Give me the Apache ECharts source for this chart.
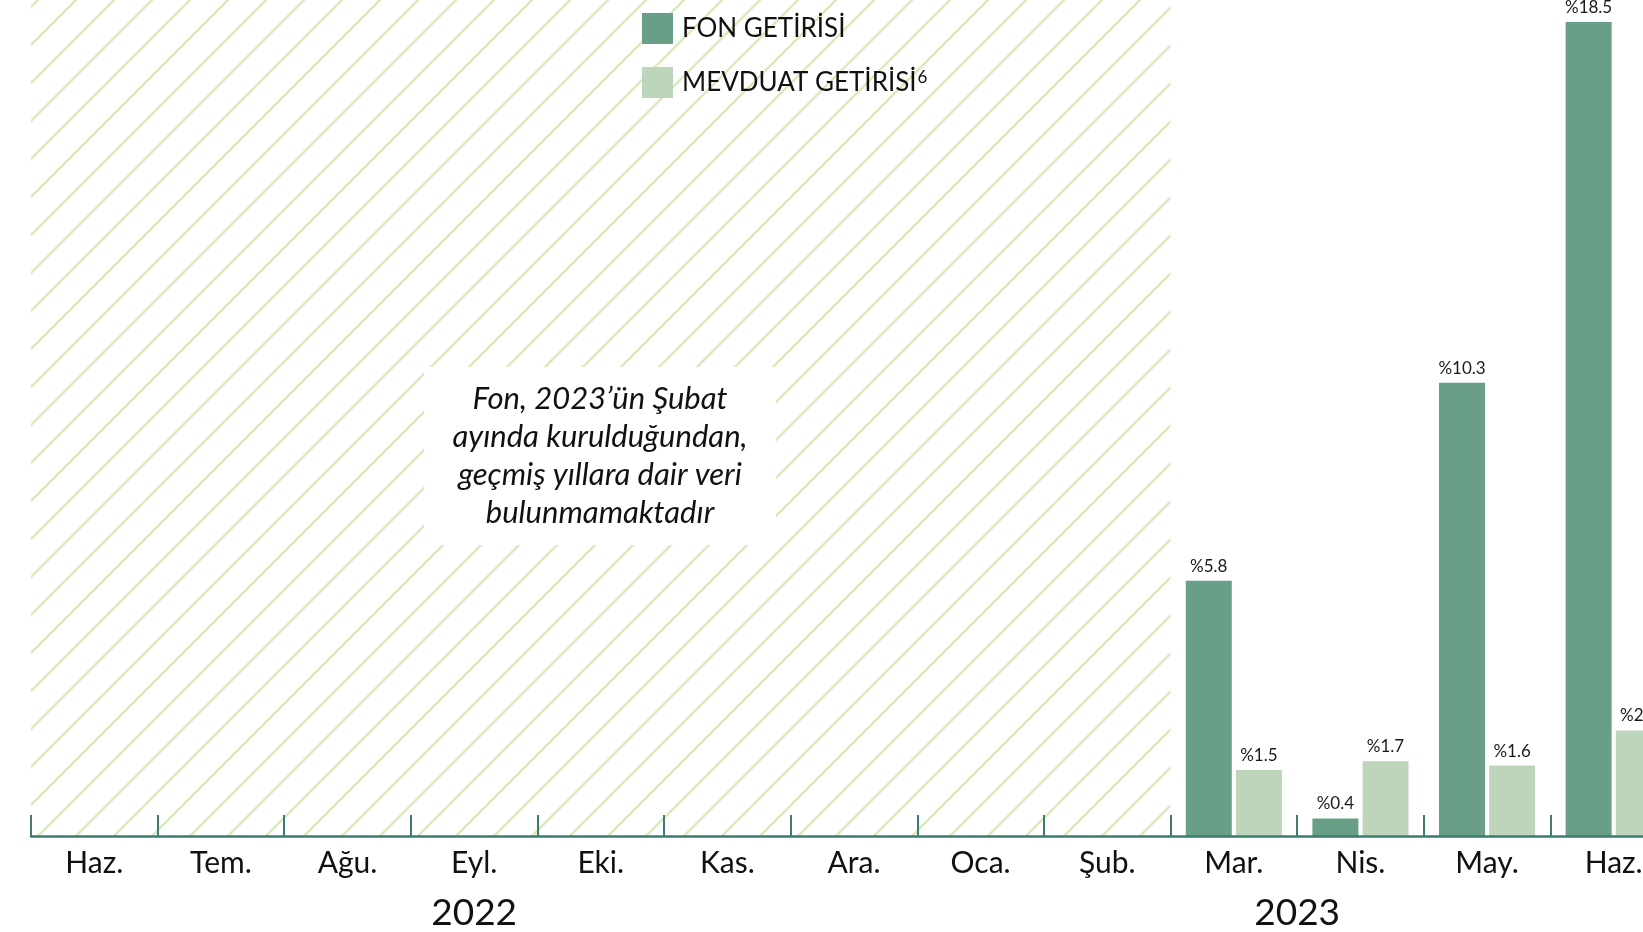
<!DOCTYPE html>
<html>
<head>
<meta charset="utf-8">
<script src="https://cdn.jsdelivr.net/npm/echarts@6/dist/echarts.min.js"></script>
<style>
  html, body { margin: 0; padding: 0; background: #fff; }
  #chart { width: 1643px; height: 932px; }
</style>
</head>
<body>
<div id="chart"></div>
<script>
// months Haz. 2022 .. Haz. 2023
const months = ['Haz.', 'Tem.', 'Ağu.', 'Eyl.', 'Eki.', 'Kas.', 'Ara.', 'Oca.', 'Şub.', 'Mar.', 'Nis.', 'May.', 'Haz.']
const monthYears = ['2022', '2022', '2022', '2022', '2022', '2022', '2022', '2023', '2023', '2023', '2023', '2023', '2023']
const fonValues = [null, null, null, null, null, null, null, null, null, 5.8, 0.4, 10.3, 18.5]
const mevduatValues = [null, null, null, null, null, null, null, null, null, 1.5, 1.7, 1.6, 2.4]
const fonName = 'FON GETİRİSİ'
const mevduatName = 'MEVDUAT GETİRİSİ'
const mevduatNote = '6'
const noteLines = ['Fon, 2023’ün Şubat', 'ayında kurulduğundan,', 'geçmiş yıllara dair veri', 'bulunmamaktadır']
const yMax = 19

const FONT = 'Lato, "Noto Sans", sans-serif'
const axisColor = '#3e7b70'

// year label positions = middle of each year's span of months
const years = []
monthYears.forEach((y, i) => {
    let last = years[years.length - 1]
    if (!last || last.name !== y) {
        years.push({ name: y, start: i, end: i + 1 })
    } else {
        last.end = i + 1
    }
})
const yearMids = years.map(y => (y.start + y.end) / 2)

// no fund data before this month -> hatched
const firstData = fonValues.findIndex(v => v != null)

function hatchPattern() {
    const s = 38
    const c = document.createElement('canvas')
    c.width = s
    c.height = s
    const ctx = c.getContext('2d')
    ctx.strokeStyle = '#dae9c0'
    ctx.lineWidth = 2.4
    for (let k = 0; k <= 2; k++) {
        ctx.beginPath()
        ctx.moveTo(-1, k * s + 1)
        ctx.lineTo(k * s + 1, -1)
        ctx.stroke()
    }
    return c
}

const labelStyle = {
    show: true,
    position: 'top',
    distance: 6,
    fontFamily: FONT,
    fontSize: 17,
    color: '#1a1a1a',
    formatter: p => '%' + p.value
}

const chart = echarts.init(document.getElementById('chart'))
chart.setOption({
    animation: false,
    backgroundColor: '#fff',
    grid: { left: 31, right: -34, top: 0, bottom: 96, containLabel: false, outerBoundsMode: 'none' },
    legend: {
        orient: 'vertical',
        left: 642,
        top: 13,
        padding: 0,
        itemWidth: 31,
        itemHeight: 31,
        itemGap: 23,
        icon: 'rect',
        data: [fonName, mevduatName],
        formatter: name => name === mevduatName ? '{t|' + name + '}{s|' + mevduatNote + '}' : '{t|' + name + '}',
        textStyle: {
            padding: [0, 0, 0, 4],
            rich: {
                t: { fontFamily: FONT, fontSize: 26, color: '#111' },
                s: { fontFamily: FONT, fontSize: 17, color: '#111', verticalAlign: 'top', padding: [0, 0, 8, 1] }
            }
        }
    },
    xAxis: [
        {
            type: 'category',
            data: months,
            boundaryGap: true,
            axisLine: { show: true, lineStyle: { color: axisColor, width: 2.5 } },
            axisTick: { show: true, interval: 0, inside: true, length: 21, lineStyle: { color: axisColor, width: 2 } },
            axisLabel: { fontFamily: FONT, fontSize: 30, color: '#111', margin: 12, interval: 0 },
            splitLine: { show: false },
            z: 5
        },
        {
            type: 'value',
            min: 0,
            max: months.length,
            position: 'bottom',
            axisLine: { show: false },
            axisTick: { show: false },
            splitLine: { show: false },
            axisLabel: {
                customValues: yearMids,
                fontFamily: FONT,
                fontSize: 37,
                color: '#111',
                margin: 59,
                formatter: v => {
                    const i = yearMids.indexOf(v)
                    return i >= 0 ? years[i].name : ''
                }
            }
        }
    ],
    yAxis: { type: 'value', min: 0, max: yMax, show: false },
    series: [
        {
            name: 'hatch',
            type: 'line',
            xAxisIndex: 1,
            data: [],
            silent: true,
            markArea: {
                silent: true,
                itemStyle: { color: { image: hatchPattern(), repeat: 'repeat' } },
                data: [[{ xAxis: 0, yAxis: 0 }, { xAxis: firstData, yAxis: yMax }]]
            }
        },
        {
            name: fonName,
            type: 'bar',
            data: fonValues,
            barWidth: 46,
            barGap: '9%',
            itemStyle: { color: '#6a9f87' },
            label: labelStyle
        },
        {
            name: mevduatName,
            type: 'bar',
            data: mevduatValues,
            barWidth: 46,
            itemStyle: { color: '#bdd6bb' },
            label: labelStyle
        }
    ],
    graphic: [
        {
            type: 'group',
            left: 424,
            top: 367,
            z: 100,
            children: [
                { type: 'rect', z: 100, shape: { x: 0, y: 0, width: 352, height: 178 }, style: { fill: '#fff' } },
                {
                    type: 'text',
                    z: 101,
                    x: 176,
                    y: 89,
                    style: {
                        text: noteLines.join('\n'),
                        font: 'italic 31px ' + FONT,
                        lineHeight: 38,
                        fill: '#111',
                        align: 'center',
                        verticalAlign: 'middle'
                    }
                }
            ]
        }
    ]
})
</script>
</body>
</html>
